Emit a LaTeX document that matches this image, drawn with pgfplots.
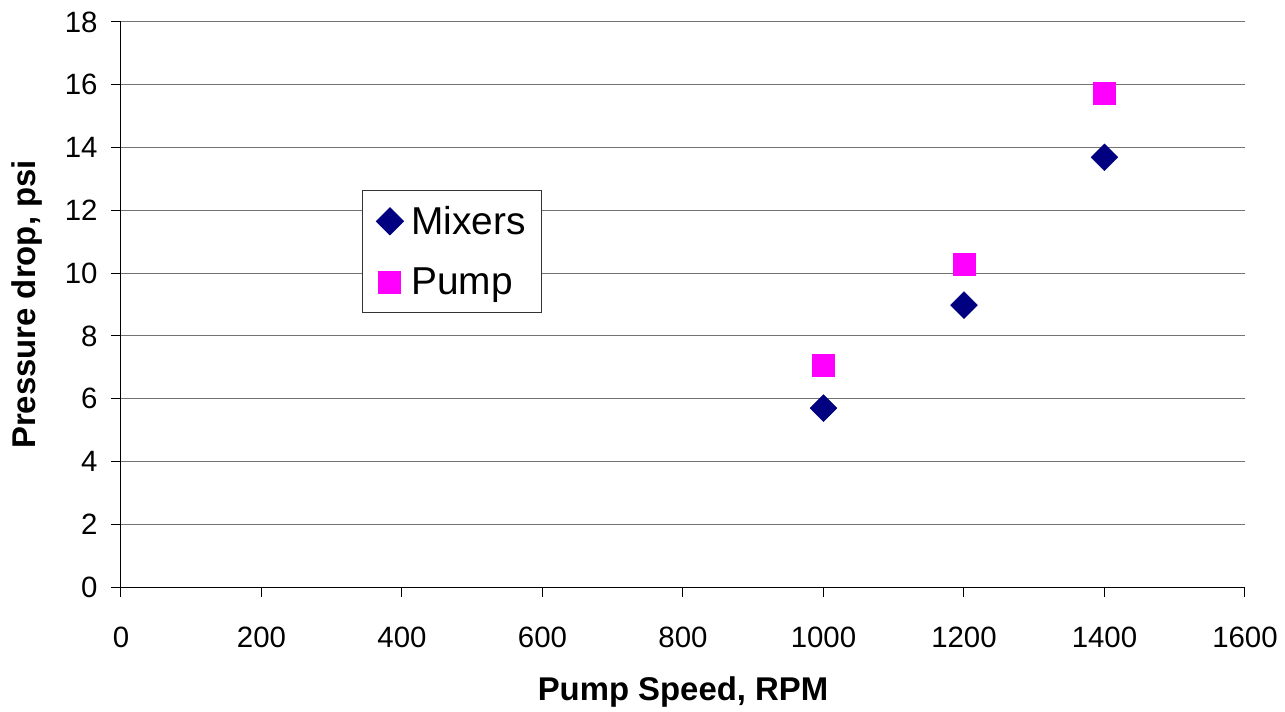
\documentclass[border=0pt]{standalone}
\usepackage{pgfplots}
\pgfplotsset{compat=1.18}
\usepackage{fontspec}
\setmainfont{Liberation Sans}
\definecolor{navyc}{RGB}{0,0,128}
\definecolor{magc}{RGB}{255,0,255}
\begin{document}
\begin{tikzpicture}
\begin{axis}[
  at={(0,0)}, anchor=south west,
  scale only axis, width=1124bp, height=565bp,
  xmin=0, xmax=1600, ymin=0, ymax=18,
  xtick={0,200,...,1600}, ytick={0,2,...,18},
  axis lines*=left,
  axis line style={black, line width=1bp},
  ymajorgrids, grid style={gray!90!black, line width=1bp},
  major tick length=10bp, tick align=outside,
  tick style={black, line width=1bp},
  xtick pos=bottom, ytick pos=left,
  /pgf/number format/assume math mode=true,
  /pgf/number format/1000 sep={},
  ticklabel style={font=\fontsize{29.5}{34}\selectfont},
  xticklabel style={yshift=-26bp},
  yticklabel style={xshift=-10bp},
  xlabel={Pump Speed, RPM},
  ylabel={Pressure drop, psi},
  xlabel style={font=\fontsize{33}{38}\selectfont\bfseries, at={(axis description cs:0.5,-0.1858)}, anchor=center},
  ylabel style={font=\fontsize{33}{38}\selectfont\bfseries, at={(axis description cs:-0.0836,0.5)}, anchor=center, rotate=0},
  legend style={at={(axis description cs:0.2144,0.7027)}, anchor=north west,
    draw=black!80, line width=1bp, font=\fontsize{39}{44}\selectfont,
    inner xsep=14bp, inner ysep=14bp, row sep=28bp, column sep=6bp, cells={anchor=west}},
  clip=false,
]
\addplot[only marks, mark=square*, mark size=9.5bp, mark options={rotate=45, fill=navyc, draw=navyc}] coordinates {
  (1000,5.70) (1200,8.98) (1400,13.69)
};
\addlegendentry{Mixers}
\addplot[only marks, mark=square*, mark size=11bp, mark options={fill=magc, draw=magc}] coordinates {
  (1000,7.07) (1200,10.29) (1400,15.73)
};
\addlegendentry{Pump}
\end{axis}
\useasboundingbox (-121bp,-125bp) rectangle (1164bp,587bp);
\end{tikzpicture}
\end{document}
